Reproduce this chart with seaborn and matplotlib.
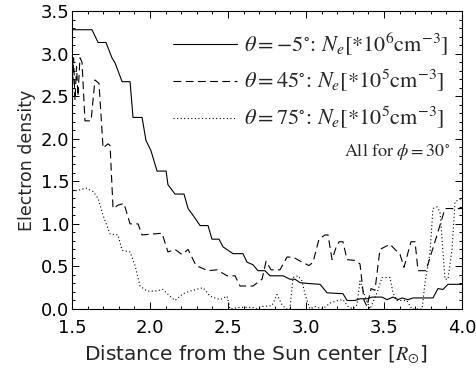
"""electron density profiles vs distance from the sun center"""

import seaborn as sns
import matplotlib.pyplot as plt
import matplotlib.ticker as mticker
import pandas as pd

# theta = -5 deg, Ne in 1e6 cm^-3
r_solid = [1.500, 1.628, 1.667, 1.718, 1.756, 1.776, 1.821, 1.872, 1.891, 1.949,
           1.974, 2.006, 2.045, 2.103, 2.115, 2.160, 2.218, 2.244, 2.276, 2.321,
           2.372, 2.397, 2.442, 2.468, 2.532, 2.596, 2.622, 2.660, 2.692, 2.737,
           2.769, 2.853, 2.897, 2.929, 2.962, 3.013, 3.090, 3.135, 3.237, 3.263,
           3.314, 3.346, 3.391, 3.423, 3.487, 3.519, 3.558, 3.590, 3.615, 3.654,
           3.686, 3.814, 3.846, 3.878, 3.910, 4.000]
ne_solid = [3.28, 3.28, 3.13, 3.13, 2.95, 2.89, 2.67, 2.67, 2.25, 2.25,
            1.98, 1.86, 1.62, 1.62, 1.46, 1.35, 1.35, 1.18, 1.10, 0.98,
            0.98, 0.82, 0.82, 0.73, 0.65, 0.65, 0.55, 0.52, 0.45, 0.45,
            0.39, 0.39, 0.35, 0.35, 0.31, 0.30, 0.29, 0.19, 0.18, 0.10,
            0.10, 0.12, 0.12, 0.14, 0.14, 0.11, 0.14, 0.11, 0.13, 0.11,
            0.13, 0.13, 0.24, 0.23, 0.29, 0.29]

# theta = 45 deg, Ne in 1e5 cm^-3
r_dashed = [1.500, 1.510, 1.519, 1.529, 1.538, 1.551, 1.564, 1.583, 1.622, 1.647,
            1.673, 1.699, 1.731, 1.744, 1.763, 1.795, 1.833, 1.872, 1.923, 1.949,
            2.077, 2.115, 2.160, 2.205, 2.244, 2.295, 2.372, 2.429, 2.494, 2.545,
            2.577, 2.660, 2.718, 2.744, 2.776, 2.833, 2.878, 2.917, 2.955, 3.019,
            3.045, 3.083, 3.122, 3.141, 3.167, 3.192, 3.212, 3.237, 3.263, 3.314,
            3.346, 3.372, 3.391, 3.417, 3.442, 3.474, 3.538, 3.603, 3.628, 3.673,
            3.699, 3.718, 3.769, 3.801, 3.840, 3.891, 4.000]
ne_dashed = [2.35, 2.95, 2.45, 2.85, 2.50, 2.95, 2.90, 2.21, 2.21, 2.69,
             2.65, 1.89, 1.94, 1.92, 1.18, 1.22, 1.24, 1.00, 1.00, 0.87,
             0.89, 0.67, 0.70, 0.64, 0.70, 0.51, 0.45, 0.46, 0.39, 0.39,
             0.27, 0.27, 0.35, 0.56, 0.46, 0.46, 0.61, 0.61, 0.57, 0.51,
             0.55, 0.82, 0.87, 0.87, 0.58, 0.72, 0.79, 0.79, 0.58, 0.57,
             0.53, 0.10, 0.03, 0.24, 0.22, 0.70, 0.76, 0.64, 0.49, 0.79,
             0.79, 0.45, 0.45, 0.64, 0.87, 1.18, 1.18]

# theta = 75 deg, Ne in 1e5 cm^-3
r_dotted = [1.500, 1.551, 1.590, 1.635, 1.667, 1.699, 1.744, 1.795, 1.821, 1.872,
            1.904, 1.936, 1.981, 2.032, 2.083, 2.128, 2.160, 2.212, 2.256, 2.340,
            2.385, 2.449, 2.494, 2.513, 2.577, 2.654, 2.686, 2.718, 2.782, 2.814,
            2.846, 2.872, 2.897, 2.917, 2.949, 2.974, 2.994, 3.026, 3.058, 3.103,
            3.135, 3.154, 3.205, 3.237, 3.269, 3.301, 3.327, 3.346, 3.378, 3.410,
            3.455, 3.487, 3.538, 3.558, 3.583, 3.647, 3.679, 3.744, 3.763, 3.795,
            3.814, 3.840, 3.859, 3.891, 3.910, 3.936, 3.955, 4.000]
ne_dotted = [1.38, 1.40, 1.42, 1.38, 1.30, 1.10, 0.88, 0.87, 0.69, 0.67,
             0.51, 0.27, 0.21, 0.21, 0.23, 0.15, 0.10, 0.18, 0.21, 0.25,
             0.15, 0.11, 0.15, 0.00, 0.02, 0.02, 0.00, 0.03, 0.04, 0.17,
             0.05, 0.00, 0.00, 0.37, 0.39, 0.33, 0.17, 0.00, 0.03, 0.00,
             0.04, 0.07, 0.10, 0.11, 0.03, 0.00, 0.05, 0.33, 0.15, 0.00,
             0.19, 0.37, 0.37, 0.19, 0.10, 0.10, 0.00, 0.00, 0.31, 0.67,
             1.18, 1.20, 1.14, 0.35, 0.35, 0.70, 1.26, 1.30]

labels = [
    r"$\theta=-5^{\circ}$: $N_e[*10^6\mathrm{cm}^{-3}]$",
    r"$\theta=45^{\circ}$: $N_e[*10^5\mathrm{cm}^{-3}]$",
    r"$\theta=75^{\circ}$: $N_e[*10^5\mathrm{cm}^{-3}]$",
]

sns.set_style("ticks")
plt.rcParams["font.family"] = ["DejaVu Sans"]
plt.rcParams["mathtext.fontset"] = "stix"

fig = plt.figure(figsize=(4.76, 3.68), dpi=100)
ax = fig.add_axes([0.1513, 0.1603, 0.8193, 0.8098])

series = [
    (r_solid, ne_solid, "-"),
    (r_dashed, ne_dashed, (0, (7, 4))),
    (r_dotted, ne_dotted, (0, (1, 2.2))),
]
for (r, ne, ls), lab in zip(series, labels):
    df = pd.DataFrame({"r": r, "ne": ne})
    sns.lineplot(data=df, x="r", y="ne", ax=ax, color="black", lw=0.8,
                 linestyle=ls, sort=False, estimator=None, label=lab)

ax.set_xlim(1.5, 4.0)
ax.set_ylim(0.0, 3.5)
ax.xaxis.set_major_locator(mticker.MultipleLocator(0.5))
ax.xaxis.set_minor_locator(mticker.MultipleLocator(0.1))
ax.yaxis.set_major_locator(mticker.MultipleLocator(0.5))
ax.yaxis.set_minor_locator(mticker.MultipleLocator(0.1))
ax.xaxis.set_major_formatter(mticker.FormatStrFormatter("%.1f"))
ax.yaxis.set_major_formatter(mticker.FormatStrFormatter("%.1f"))
ax.tick_params(which="both", direction="in", top=True, right=True,
               width=0.7, colors="black", labelsize=13)
ax.tick_params(which="major", length=5)
ax.tick_params(which="minor", length=2.5)
ax.tick_params(axis="x", which="major", pad=7)
ax.tick_params(axis="y", which="major", pad=2)
for s in ax.spines.values():
    s.set_linewidth(0.8)
    s.set_color("black")

ax.set_xlabel(r"Distance from the Sun center [$R_{\odot}$]", fontsize=14.5, labelpad=1)
ax.xaxis.set_label_coords(0.47, -0.115)
ax.set_ylabel("Electron density", fontsize=12.5, labelpad=3)

leg = ax.legend(loc="upper right", bbox_to_anchor=(0.965, 0.935), frameon=False,
                prop={"family": "STIXGeneral", "size": 16}, handlelength=2.9,
                handletextpad=0.3, labelspacing=0.5, borderaxespad=0, borderpad=0)
ax.text(3.92, 1.84, r"All for $\phi=30^{\circ}$", ha="right", va="center",
        fontsize=13, family="STIXGeneral")

fig.savefig("out.png", dpi=100)
